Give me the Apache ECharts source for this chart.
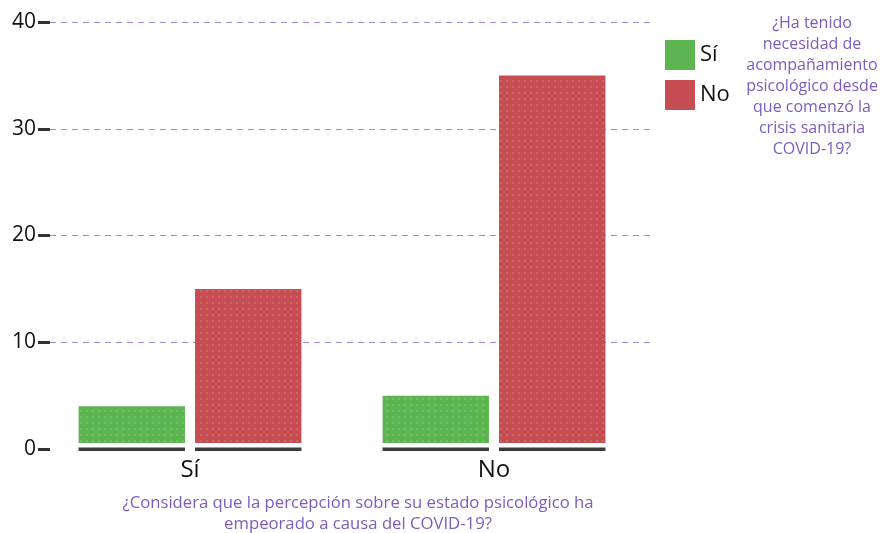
<!DOCTYPE html>
<html>
<head>
<meta charset="utf-8">
<script src="https://cdn.jsdelivr.net/npm/echarts@6/dist/echarts.min.js"></script>
<style>
  html, body { margin: 0; padding: 0; background: #fff; }
  #chart { width: 883px; height: 533px; }
</style>
</head>
<body>
<div id="chart"></div>
<script>
// datos
var categories = ['Sí', 'No'];          // eje x: ¿ha empeorado la percepción?
var seriesNames = ['Sí', 'No'];         // leyenda: ¿necesidad de acompañamiento?
var siValues = [4, 5];
var noValues = [15, 35];
var yTicks = [0, 10, 20, 30, 40];

var purple = '#7c5cbc';

// pequeño patrón de puntos para imitar la textura de las barras
var dots = document.createElement('canvas');
dots.width = 6; dots.height = 6;
var dctx = dots.getContext('2d');
dctx.fillStyle = 'rgba(255,255,255,0.13)';
dctx.fillRect(2, 2, 2, 2);

// dibuja cada barra con su línea oscura debajo
function makeRender(side) {
    return function (params, api) {
        var cat = api.value(0);
        var val = api.value(1);
        var base = api.coord([cat, 0]);
        var top = api.coord([cat, val]);
        var band = api.size([1, 0])[0];
        var w = band * 0.35;
        var half = band * 0.0165;
        var x = side < 0 ? base[0] - half - w : base[0] + half;
        var h = base[1] - 6 - top[1];
        return {
            type: 'group',
            children: [
                { type: 'rect', shape: { x: x, y: top[1], width: w, height: h }, style: api.style() },
                { type: 'rect', shape: { x: x, y: top[1], width: w, height: h }, style: { fill: { image: dots, repeat: 'repeat' } }, silent: true },
                { type: 'rect', shape: { x: x, y: base[1] - 1.5, width: w, height: 3.5 }, style: { fill: '#3a3a3a' } }
            ]
        };
    };
}

function toData(values) {
    return values.map(function (v, i) { return [i, v]; });
}

var myChart = echarts.init(document.getElementById('chart'));

var option = {
    animation: false,
    textStyle: { fontFamily: 'Open Sans' },
    title: [
        {
            text: '¿Considera que la percepción sobre su estado psicológico ha\nempeorado a causa del COVID-19?',
            left: 353, top: 488, textAlign: 'center',
            textStyle: { color: purple, fontSize: 16.7, fontWeight: 'normal', lineHeight: 21, fontFamily: 'Open Sans' }
        },
        {
            text: '¿Ha tenido\nnecesidad de\nacompañamiento\npsicológico desde\nque comenzó la\ncrisis sanitaria\nCOVID-19?',
            left: 807, top: 8, textAlign: 'center',
            textStyle: { color: purple, fontSize: 16, fontWeight: 'normal', lineHeight: 21, fontFamily: 'Open Sans' }
        }
    ],
    legend: {
        orient: 'vertical',
        left: 665, top: 40, padding: 0,
        itemWidth: 30, itemHeight: 30, itemGap: 10, itemTextGap: 8,
        icon: 'rect',
        data: seriesNames,
        textStyle: { fontSize: 22, color: '#111', fontFamily: 'Open Sans' }
    },
    grid: [
        { left: 38, right: 237, top: 22, bottom: 84 },   // barras
        { left: 50, right: 231, top: 22, bottom: 84 }    // eje y y rejilla
    ],
    xAxis: [
        {
            type: 'category', gridIndex: 0, data: categories,
            axisLine: { show: false }, axisTick: { show: false },
            axisLabel: { fontSize: 24, color: '#111', margin: 9 }
        },
        { type: 'value', gridIndex: 1, show: false }
    ],
    yAxis: [
        { type: 'value', gridIndex: 0, min: 0, max: 40, interval: 10, show: false },
        {
            type: 'value', gridIndex: 1, min: yTicks[0], max: yTicks[yTicks.length - 1], interval: 10,
            axisLine: { show: false },
            axisTick: { show: true, length: 12, lineStyle: { color: '#333', width: 3 } },
            axisLabel: { fontSize: 21, color: '#111', margin: 14 },
            splitLine: { showMinLine: false, lineStyle: { color: '#a487d4', type: [6, 5], width: 1 } }
        }
    ],
    series: [
        {
            name: seriesNames[0], type: 'custom', xAxisIndex: 0, yAxisIndex: 0,
            itemStyle: { color: '#5db551' },
            renderItem: makeRender(-1),
            data: toData(siValues)
        },
        {
            name: seriesNames[1], type: 'custom', xAxisIndex: 0, yAxisIndex: 0,
            itemStyle: { color: '#c64d51' },
            renderItem: makeRender(1),
            data: toData(noValues)
        }
    ]
};

myChart.setOption(option);
</script>
</body>
</html>
